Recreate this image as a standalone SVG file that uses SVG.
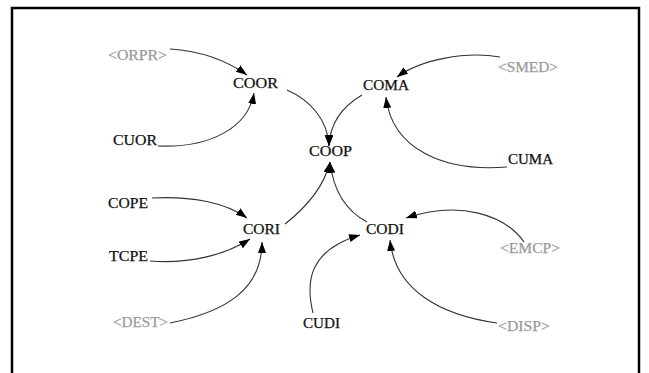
<svg xmlns="http://www.w3.org/2000/svg" width="649" height="373" viewBox="0 0 649 373">
<style>
text{font-family:"Liberation Serif","DejaVu Serif","Times New Roman",serif;font-size:14px;text-anchor:middle;fill:#111;stroke:#111;stroke-width:0.25}
text.g{fill:#9a9a9a;stroke:#9a9a9a}
.c path{fill:none;stroke:#333;stroke-width:1.1;marker-end:url(#ah)}
</style>
<defs>
<marker id="ah" markerUnits="userSpaceOnUse" markerWidth="12" markerHeight="9" refX="11" refY="4" orient="auto">
<path d="M0,0 L11,4 L0,8 z" fill="#000"/>
</marker>
</defs>
<rect x="0" y="0" width="649" height="373" fill="#fff"/>
<path d="M12,380 V8 H639 V380" fill="none" stroke="#000" stroke-width="2.5"/>
<g class="c" id="connectors">
<path d="M170,49 Q215,52 247,75"/>
<path d="M158,146 C210,148 248,128 254,93"/>
<path d="M287,90 C310,100 328,120 329,146"/>
<path d="M362,95 C345,105 330,120 329,146"/>
<path d="M500,57 C465,51 420,60 397,77"/>
<path d="M507,167 C445,172 392,150 386,97"/>
<path d="M285,224 Q322,195 330,162"/>
<path d="M367,222 Q335,205 330,162"/>
<path d="M152,198 C190,196 225,202 247,218"/>
<path d="M150,261 C190,264 225,255 250,239"/>
<path d="M170,323 C225,312 262,290 262,242"/>
<path d="M313,313 C305,280 310,250 360,235"/>
<path d="M524,242 C505,215 460,200 406,218"/>
<path d="M497,323 C440,315 395,290 390,240"/>
</g>
<g id="ORPR"><text class="g" x="137.5" y="59.5" textLength="59" lengthAdjust="spacingAndGlyphs">&lt;ORPR&gt;</text></g>
<g id="COOR"><text x="255.5" y="87.5" textLength="45" lengthAdjust="spacingAndGlyphs">COOR</text></g>
<g id="COMA"><text x="386" y="89.5" textLength="46" lengthAdjust="spacingAndGlyphs">COMA</text></g>
<g id="SMED"><text class="g" x="528" y="71.5" textLength="60" lengthAdjust="spacingAndGlyphs">&lt;SMED&gt;</text></g>
<g id="CUOR"><text x="135" y="144.5" textLength="44" lengthAdjust="spacingAndGlyphs">CUOR</text></g>
<g id="COOP"><text x="330.5" y="155.5" textLength="43" lengthAdjust="spacingAndGlyphs">COOP</text></g>
<g id="CUMA"><text x="530.5" y="163.5" textLength="45" lengthAdjust="spacingAndGlyphs">CUMA</text></g>
<g id="COPE"><text x="128" y="207.5" textLength="40" lengthAdjust="spacingAndGlyphs">COPE</text></g>
<g id="CORI"><text x="261.5" y="233.5" textLength="37" lengthAdjust="spacingAndGlyphs">CORI</text></g>
<g id="CODI"><text x="385" y="233.5" textLength="38" lengthAdjust="spacingAndGlyphs">CODI</text></g>
<g id="EMCP"><text class="g" x="530" y="252.5" textLength="60" lengthAdjust="spacingAndGlyphs">&lt;EMCP&gt;</text></g>
<g id="TCPE"><text x="128.5" y="260.5" textLength="39" lengthAdjust="spacingAndGlyphs">TCPE</text></g>
<g id="DEST"><text class="g" x="140.5" y="326.5" textLength="55" lengthAdjust="spacingAndGlyphs">&lt;DEST&gt;</text></g>
<g id="CUDI"><text x="321.5" y="327.5" textLength="37" lengthAdjust="spacingAndGlyphs">CUDI</text></g>
<g id="DISP"><text class="g" x="524" y="330.5" textLength="52" lengthAdjust="spacingAndGlyphs">&lt;DISP&gt;</text></g>
</svg>
